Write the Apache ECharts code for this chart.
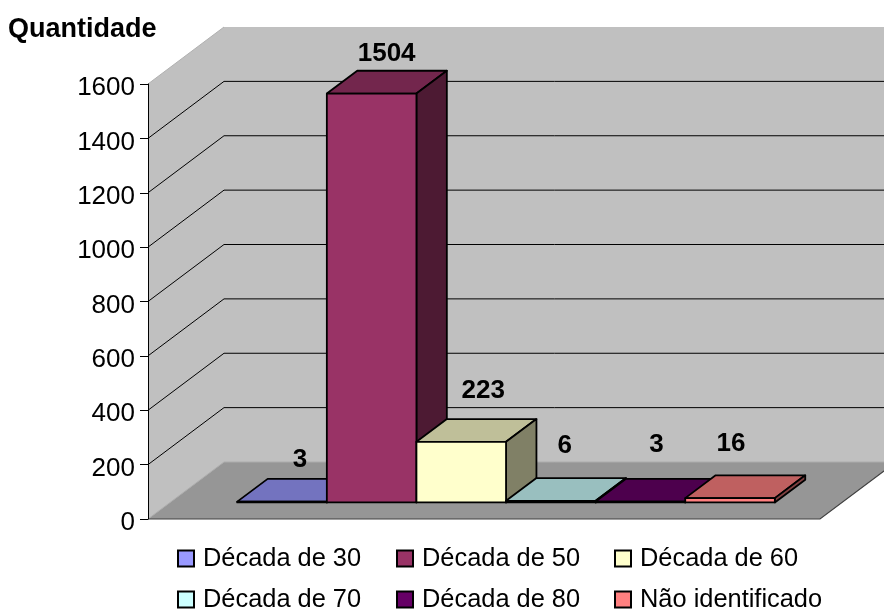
<!DOCTYPE html>
<html>
<head>
<meta charset="utf-8">
<style>html,body{margin:0;padding:0;background:#fff}#c{width:884px;height:609px}</style>
<script src="https://cdn.jsdelivr.net/npm/echarts@6/dist/echarts.min.js"></script>
</head>
<body>
<div id="c"></div>
<script>
const categories = ['Década de 30','Década de 50','Década de 60','Década de 70','Década de 80','Não identificado'];
const values = [3,1504,223,6,3,16];
const yTicks = [0,200,400,600,800,1000,1200,1400,1600];
const frontColors = ['#9999FF','#993366','#FFFFCC','#CCFFFF','#660066','#FF8080'];
const topColors = ['#7373BF','#73264D','#BFBF99','#99BFBF','#4D004D','#BF6060'];
const sideColors = ['#4D4D80','#4D1A33','#808066','#668080','#330033','#804040'];
const labelNudges = [[18,-42],[15,-40],[22,-51],[14,-55],[16,-57],[1,-54]];
const legendLefts = [177,396,614,177,396,614];
const legendTops = [546,546,546,587,587,587];

const FONT = '"Liberation Sans", Arial, sans-serif';
const DEPTH_X = 76, DEPTH_Y = -57;
const BAR_D0 = 0.29, BAR_D1 = 0.69;
const X_MIN = -0.75, X_MAX = 6.75, Y_MAX = 1600;

function proj(api, x, y, d) {
  const p = api.coord([x, y]);
  return [p[0] + DEPTH_X * d, p[1] + DEPTH_Y * d];
}

function renderWalls(params, api) {
  const a = proj(api, X_MIN, 0, 0), b = proj(api, X_MIN, 0, 1), c = proj(api, X_MAX, 0, 1), e = proj(api, X_MAX, 0, 0);
  const f = proj(api, X_MIN, Y_MAX, 0), g = proj(api, X_MIN, Y_MAX, 1), h = proj(api, X_MAX, Y_MAX, 1);
  return { type: 'group', silent: true, children: [
    { type: 'polygon', shape: { points: [b, g, h, c] }, style: { fill: '#C0C0C0' } },
    { type: 'polygon', shape: { points: [a, f, g, b] }, style: { fill: '#C0C0C0' } },
    { type: 'polyline', shape: { points: [f, g] }, style: { fill: null, stroke: '#B0B0B0', lineWidth: 1 } },
    { type: 'polygon', shape: { points: [a, b, c, e] }, style: { fill: '#969696' } },
    { type: 'polyline', shape: { points: [a, b, c] }, style: { fill: null, stroke: '#ACACAC', lineWidth: 1 } },
    { type: 'polyline', shape: { points: [a, e, c] }, style: { fill: null, stroke: '#404040', lineWidth: 1.2 } }
  ]};
}

function renderGrid(params, api) {
  const v = api.value(0);
  if (v === 0 || v === Y_MAX) return { type: 'group', children: [] };
  const p0 = proj(api, X_MIN, v, 0), p1 = proj(api, X_MIN, v, 1), p2 = proj(api, X_MAX, v, 1);
  return { type: 'polyline', silent: true, shape: { points: [p0, p1, p2] }, style: { fill: null, stroke: '#000', lineWidth: 1 } };
}

function makeBarRender(idx) {
  return function (params, api) {
    const i = api.value(0), v = api.value(1);
    const A = proj(api, i, 0, BAR_D0), B = proj(api, i + 1, 0, BAR_D0);
    const C = proj(api, i + 1, v, BAR_D0), D = proj(api, i, v, BAR_D0);
    const E = proj(api, i + 1, 0, BAR_D1), F = proj(api, i + 1, v, BAR_D1), G = proj(api, i, v, BAR_D1);
    const line = { stroke: '#000', lineWidth: 1.8, lineJoin: 'round' };
    const mid = (D[0] + C[0]) / 2;
    const n = labelNudges[idx];
    return { type: 'group', children: [
      { type: 'polygon', shape: { points: [D, C, F, G] }, style: Object.assign({ fill: topColors[idx] }, line) },
      { type: 'polygon', shape: { points: [B, E, F, C] }, style: Object.assign({ fill: sideColors[idx] }, line) },
      { type: 'polygon', shape: { points: [A, B, C, D] }, style: Object.assign({ fill: frontColors[idx] }, line) },
      { type: 'text', z2: 10, style: { text: String(v), x: mid + n[0], y: D[1] + n[1], fill: '#000',
        align: 'center', verticalAlign: 'middle', font: 'bold 26px ' + FONT } }
    ]};
  };
}

const barSeries = categories.map((name, idx) => ({
  type: 'custom', name: name, z: 3 + idx, clip: false,
  itemStyle: { color: frontColors[idx], borderColor: '#000', borderWidth: 2 },
  encode: { x: 0, y: 1 },
  data: [[idx, values[idx]]],
  renderItem: makeBarRender(idx)
}));

const chart = echarts.init(document.getElementById('c'), null, { renderer: 'canvas' });
chart.setOption({
  animation: false,
  backgroundColor: '#fff',
  title: { text: 'Quantidade', left: 8, top: 16, padding: 0,
    textStyle: { fontFamily: FONT, fontSize: 27, fontWeight: 'bold', color: '#000' } },
  grid: { left: 148, top: 84, width: 672, height: 435 },
  xAxis: { type: 'value', min: X_MIN, max: X_MAX, show: false },
  yAxis: { type: 'value', min: 0, max: Y_MAX, interval: 200, z: 5, position: 'left',
    axisLine: { show: true, onZero: false, lineStyle: { color: '#000', width: 1 } },
    axisTick: { show: true, length: 8, lineStyle: { color: '#000', width: 1 } },
    splitLine: { show: false },
    axisLabel: { margin: 13, color: '#000',
      formatter: v => '{t|' + v + '}',
      rich: { t: { fontFamily: FONT, fontSize: 26, color: '#000', padding: [8,0,0,0] } } } },
  legend: categories.map((name, idx) => ({
    left: legendLefts[idx], top: legendTops[idx], padding: 0,
    itemWidth: 16, itemHeight: 16, data: [name], icon: 'rect', selectedMode: false,
    textStyle: { fontFamily: FONT, fontSize: 25.4, color: '#000', padding: [2,0,0,4] }
  })),
  series: [
    { type: 'custom', z: 1, clip: false, silent: true, data: [[0]], encode: { x: [], y: [] }, renderItem: renderWalls },
    { type: 'custom', z: 2, clip: false, silent: true, data: yTicks.map(t => [t]), encode: { x: [], y: [] }, renderItem: renderGrid }
  ].concat(barSeries)
});
</script>
</body>
</html>
